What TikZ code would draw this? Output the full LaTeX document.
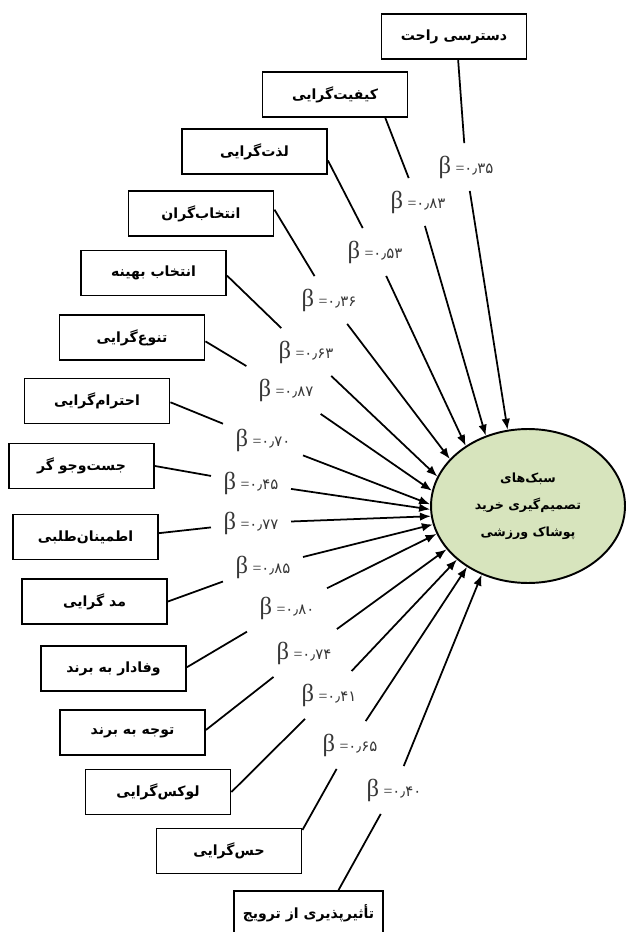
\documentclass[tikz,border=0pt]{standalone}
\usepackage{fontspec}
\usepackage{tikz}
\usepackage{xcolor}
\usetikzlibrary{shapes.geometric, arrows.meta}
\newfontfamily\persianfont[Script=Arabic]{DejaVu Sans}
\newfontfamily\greekfont{Liberation Serif}
\TeXXeTstate=1
\definecolor{ellipsegreen}{RGB}{215, 228, 189}
\definecolor{labelgray}{RGB}{55, 55, 55}
\newcommand{\betalabel}[1]{{\greekfont\fontsize{14}{14}\selectfont β}\hspace{2.5pt}{\greekfont\fontsize{9}{10}\selectfont=}{\persianfont\fontsize{8.5}{10}\selectfont#1}}

\begin{document}
\begin{tikzpicture}[x=0.02cm, y=-0.02cm,
    factor/.style={draw, line width=1.1pt, minimum width=2.9cm, minimum height=0.9cm,
        font=\persianfont\bfseries\fontsize{8}{10}\selectfont},
    coef/.style={inner sep=7pt, text=labelgray},
    link/.style={line width=1pt},
    arrowlink/.style={link, -{Latex[length=2.2mm, width=1.7mm]}}]
    \useasboundingbox (0,0) rectangle (625,932);
    % outcome
    \node[ellipse, draw, line width=1.1pt, fill=ellipsegreen, minimum width=3.88cm, minimum height=3.08cm,
        align=center, font=\persianfont\bfseries\fontsize{7.2}{15.5}\selectfont] (ell) at (528,506)
        {\beginR سبک‌های\endR\\ \beginR تصمیم‌گیری خرید\endR\\ \beginR پوشاک ورزشی\endR};
    % factors
    \node[factor] (b1) at (454,36.5) {\beginR دسترسی راحت\endR};
    \node[factor] (b2) at (335,94.5) {\beginR کیفیت‌گرایی\endR};
    \node[factor] (b3) at (254.5,151.5) {\beginR لذت‌گرایی\endR};
    \node[factor] (b4) at (201,213.5) {\beginR انتخاب‌گران\endR};
    \node[factor] (b5) at (153.5,273) {\beginR انتخاب بهینه\endR};
    \node[factor] (b6) at (132,337.5) {\beginR تنوع‌گرایی\endR};
    \node[factor] (b7) at (97,401) {\beginR احترام‌گرایی\endR};
    \node[factor] (b8) at (81.5,466) {\beginR جست‌وجو گر\endR};
    \node[factor] (b9) at (85.5,537) {\beginR اطمینان‌طلبی\endR};
    \node[factor] (b10) at (94.5,601.5) {\beginR مد گرایی\endR};
    \node[factor] (b11) at (113.5,668.5) {\beginR وفادار به برند\endR};
    \node[factor] (b12) at (132.5,732.5) {\beginR توجه به برند\endR};
    \node[factor] (b13) at (158,792) {\beginR لوکس‌گرایی\endR};
    \node[factor] (b14) at (229,851) {\beginR حس‌گرایی\endR};
    \node[factor, minimum width=2.98cm] (b15) at (308.5,913.5) {\beginR تأثیرپذیری از ترویج\endR};
    % path coefficients
    \node[coef] (c1) at (466,167) {\betalabel{۰٫۳۵}};
    \node[coef] (c2) at (418,202) {\betalabel{۰٫۸۳}};
    \node[coef] (c3) at (375,252) {\betalabel{۰٫۵۳}};
    \node[coef] (c4) at (329,300) {\betalabel{۰٫۳۶}};
    \node[coef] (c5) at (306,352) {\betalabel{۰٫۶۳}};
    \node[coef] (c6) at (286,390) {\betalabel{۰٫۸۷}};
    \node[coef] (c7) at (263,440) {\betalabel{۰٫۷۰}};
    \node[coef] (c8) at (251,483) {\betalabel{۰٫۴۵}};
    \node[coef] (c9) at (251,523) {\betalabel{۰٫۷۷}};
    \node[coef] (c10) at (263,567) {\betalabel{۰٫۸۵}};
    \node[coef] (c11) at (287,608) {\betalabel{۰٫۸۰}};
    \node[coef] (c12) at (304,653) {\betalabel{۰٫۷۴}};
    \node[coef] (c13) at (329,695) {\betalabel{۰٫۴۱}};
    \node[coef] (c14) at (350,745) {\betalabel{۰٫۶۵}};
    \node[coef] (c15) at (394,790) {\betalabel{۰٫۴۰}};
    % links
    \draw[link] (b1.-80) -- (c1);   \draw[arrowlink] (c1) -- (ell.105);
    \draw[link] (b2.-25) -- (c2);   \draw[arrowlink] (c2) -- (ell.121);
    \draw[link] (b3.-7) -- (c3);    \draw[arrowlink] (c3) -- (ell.136);
    \draw[link] (b4.3) -- (c4);     \draw[arrowlink] (c4) -- (ell.149);
    \draw[link] (b5.-2) -- (c5);    \draw[arrowlink] (c5) -- (ell.162);
    \draw[link] (b6.-3) -- (c6);    \draw[arrowlink] (c6) -- (ell.171);
    \draw[link] (b7.-1) -- (c7);    \draw[arrowlink] (c7) -- (ell.179);
    \draw[link] (b8.0) -- (c8);     \draw[arrowlink] (c8) -- (ell.182);
    \draw[link] (b9.3) -- (c9);     \draw[arrowlink] (c9) -- (ell.186);
    \draw[link] (b10.0) -- (c10);   \draw[arrowlink] (c10) -- (ell.191);
    \draw[link] (b11.1) -- (c11);   \draw[arrowlink] (c11) -- (ell.197);
    \draw[link] (b12.2) -- (c12);   \draw[arrowlink] (c12) -- (ell.208);
    \draw[link] (b13.0) -- (c13);   \draw[arrowlink] (c13) -- (ell.217);
    \draw[link] (b14.16) -- (c14);  \draw[arrowlink] (c14) -- (ell.225);
    \draw[link] (b15.38) -- (c15);  \draw[arrowlink] (c15) -- (ell.236);
\end{tikzpicture}
\end{document}
